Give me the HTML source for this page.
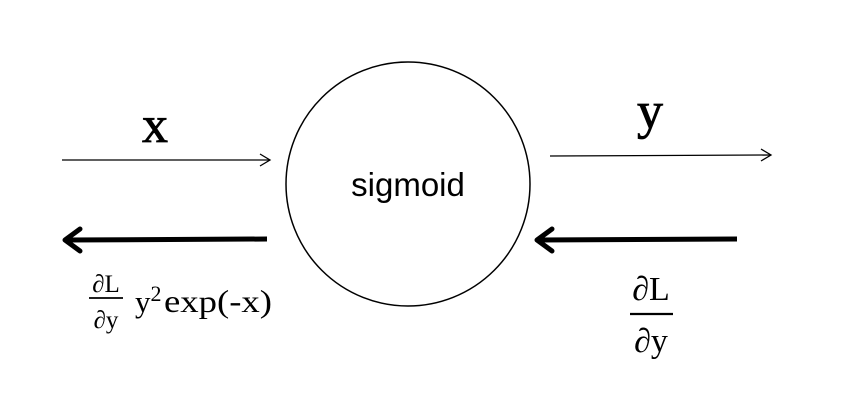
<!DOCTYPE html>
<html><head><style>body{margin:0;background:#fff}svg{display:block}</style></head><body>
<svg width="844" height="404" viewBox="0 0 844 404" xmlns="http://www.w3.org/2000/svg">
<rect width="844" height="404" fill="#fff"/>
<circle cx="408" cy="184" r="122" fill="none" stroke="#000" stroke-width="1.5"/>
<text x="408" y="196" font-family="Liberation Sans, sans-serif" font-size="33" text-anchor="middle">sigmoid</text>
<line x1="62" y1="160" x2="270" y2="160" stroke="#000" stroke-width="1.3"/>
<polyline points="260,154 270,160 260,166" fill="none" stroke="#000" stroke-width="1.3"/>
<text x="155" y="142" font-family="Liberation Serif, serif" font-size="52" text-anchor="middle" stroke="#000" stroke-width="0.8">x</text>
<line x1="550" y1="156" x2="771" y2="155" stroke="#000" stroke-width="1.3"/>
<polyline points="761,149 771,155 761,161" fill="none" stroke="#000" stroke-width="1.3"/>
<text x="650" y="128" font-family="Liberation Serif, serif" font-size="52" text-anchor="middle" stroke="#000" stroke-width="0.8">y</text>
<line x1="267" y1="239" x2="66" y2="240" stroke="#000" stroke-width="5"/>
<polyline points="80,229 65,240 80,251" fill="none" stroke="#000" stroke-width="5" stroke-linecap="round" stroke-linejoin="round"/>
<line x1="737" y1="239" x2="538" y2="240" stroke="#000" stroke-width="5"/>
<polyline points="552,229 537,240 552,251" fill="none" stroke="#000" stroke-width="5" stroke-linecap="round" stroke-linejoin="round"/>
<text x="106" y="292" font-family="Liberation Serif, DejaVu Serif, serif" font-size="25" text-anchor="middle">∂L</text>
<line x1="89" y1="298" x2="123" y2="298" stroke="#000" stroke-width="1.8"/>
<text x="106" y="328" font-family="Liberation Serif, DejaVu Serif, serif" font-size="25" text-anchor="middle">∂y</text>
<text x="135" y="312" font-family="Liberation Serif, serif" font-size="31">y<tspan dy="-11" font-size="22">2</tspan></text>
<text x="164" y="312" font-family="Liberation Serif, serif" font-size="32" textLength="108" lengthAdjust="spacingAndGlyphs">exp(-x)</text>
<text x="651" y="300" font-family="Liberation Serif, DejaVu Serif, serif" font-size="34" text-anchor="middle">∂L</text>
<line x1="630" y1="314" x2="673" y2="314" stroke="#000" stroke-width="2.2"/>
<text x="651" y="352" font-family="Liberation Serif, DejaVu Serif, serif" font-size="34" text-anchor="middle">∂y</text>
</svg>
</body></html>
